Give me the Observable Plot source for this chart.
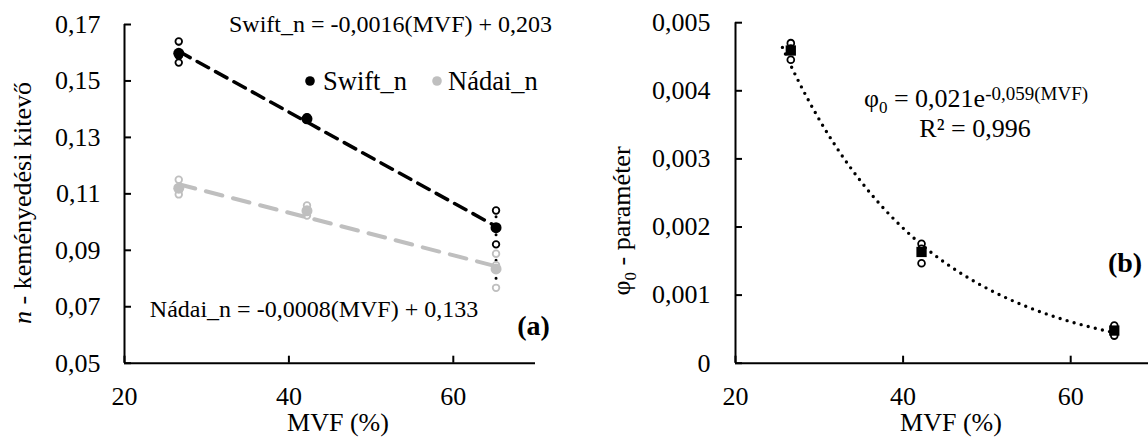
<!DOCTYPE html>
<html>
<head>
<meta charset="utf-8">
<script src="https://cdn.jsdelivr.net/npm/d3@7"></script>
<script src="https://cdn.jsdelivr.net/npm/@observablehq/plot@0.6"></script>
<style>
  html, body { margin: 0; padding: 0; background: #fff; }
  #fig { position: relative; width: 1148px; height: 438px; overflow: hidden; background: #fff; }
  #fig svg { position: absolute; top: 0; font-family: "Liberation Serif", "Times New Roman", serif; }
  #fig svg text { font-family: "Liberation Serif", "Times New Roman", serif; }
</style>
</head>
<body>
<div id="fig"></div>
<script>
// Martensite volume fraction of the three steel grades (%)
const mvf = [26.6, 42.2, 65.2];

// Strain-hardening exponent n, three specimens per grade
const swiftN = [[0.1640, 0.1589, 0.1565], [0.1372, 0.1364, 0.1362], [0.1041, 0.0978, 0.0921]];
const nadaiN = [[0.1150, 0.1112, 0.1098], [0.1059, 0.1038, 0.1023], [0.0888, 0.0847, 0.0767]];

// Swift pre-strain parameter phi0, three specimens per grade
const phi0 = [[0.00470, 0.00462, 0.004455], [0.001753, 0.00168, 0.001468], [0.000553, 0.00048, 0.000405]];

// Exponential trend of phi0 and the MVF span it is drawn over
const phiFit = { a: 0.021, b: -0.059, r2: 0.996 };
const phiFitRange = [25.6, 65.2];

const seriesNames = ["Swift_n", "Nádai_n"];
const seriesColors = ["#000000", "#bfbfbf"];

const ticksX = [20, 40, 60];
const ticksN = [0.05, 0.07, 0.09, 0.11, 0.13, 0.15, 0.17];
const ticksPhi = [0, 0.001, 0.002, 0.003, 0.004, 0.005];

const comma = (v, d) => v.toFixed(d).replace(".", ",");
const font = "Liberation Serif";

const toRows = (vals) => vals.flatMap((reps, i) => reps.map((v) => ({ mvf: mvf[i], value: v })));
const toStats = (vals) => vals.map((reps, i) => ({
  mvf: mvf[i], mean: d3.mean(reps), lo: d3.min(reps), hi: d3.max(reps)
}));

// ordinary least squares, same fit as Plot.linearRegressionY
function fitLine(rows) {
  const mx = d3.mean(rows, (d) => d.mvf), my = d3.mean(rows, (d) => d.value);
  const sxy = d3.sum(rows, (d) => (d.mvf - mx) * (d.value - my));
  const sxx = d3.sum(rows, (d) => (d.mvf - mx) ** 2);
  const slope = sxy / sxx;
  return { slope, intercept: my - slope * mx };
}

// free-standing SVG text with mixed styles (italic, sub/superscripts)
function textMark({ x, y, anchor = "start", size = 26, weight = "normal", rotate = 0, parts }) {
  return () => {
    const t = d3.create("svg:text")
      .attr("transform", `translate(${x},${y})` + (rotate ? ` rotate(${rotate})` : ""))
      .attr("text-anchor", anchor)
      .attr("font-family", font)
      .attr("font-size", size)
      .attr("font-weight", weight)
      .attr("fill", "black");
    let shift = 0;
    for (const p of parts) {
      const s = t.append("tspan").text(p.text);
      if (p.size) s.attr("font-size", p.size);
      if (p.italic) s.attr("font-style", "italic");
      const target = p.shift || 0;
      if (target !== shift) { s.attr("dy", target - shift); shift = target; }
    }
    return t.node();
  };
}

function swatch({ x, y, r, fill }) {
  return () => d3.create("svg:circle").attr("cx", x).attr("cy", y).attr("r", r).attr("fill", fill).node();
}

const baseStyle = { fontFamily: font, fontSize: "26px", color: "black", background: "transparent", overflow: "visible" };
const axisText = { fontFamily: font, fontSize: 26, fontVariant: "normal" };

// ---------- (a) strain-hardening exponent ----------
const swiftRows = toRows(swiftN), nadaiRows = toRows(nadaiN);
const swiftStats = toStats(swiftN), nadaiStats = toStats(nadaiN);
const swiftFit = fitLine(swiftRows), nadaiFit = fitLine(nadaiRows);
const eqText = (name, f) => `${name} = ${comma(f.slope, 4)}(MVF) + ${comma(f.intercept, 3)}`;

const left = Plot.plot({
  width: 575, height: 438,
  marginLeft: 124, marginRight: 40, marginTop: 24, marginBottom: 75.3,
  style: baseStyle,
  x: { domain: [20, 70] },
  y: { domain: [0.05, 0.17] },
  marks: [
    Plot.axisY(ticksN, { ...axisText, tickSize: -7, tickPadding: 31, tickFormat: (v) => comma(v, 2), strokeWidth: 2, label: null }),
    Plot.axisX(ticksX, { ...axisText, tickSize: -7, tickPadding: 30, strokeWidth: 2, label: null }),
    Plot.ruleX([20], { strokeWidth: 2 }),
    Plot.ruleY([0.05], { strokeWidth: 2 }),
    Plot.ruleX([...swiftStats, ...nadaiStats], {
      x: "mvf", y1: "lo", y2: "hi", stroke: "black", strokeWidth: 3, strokeDasharray: "0,9", strokeLinecap: "round"
    }),
    Plot.dot(swiftRows, { x: "mvf", y: "value", r: 3.3, stroke: seriesColors[0], fill: "white", strokeWidth: 1.8 }),
    Plot.dot(nadaiRows, { x: "mvf", y: "value", r: 3.3, stroke: seriesColors[1], fill: "white", strokeWidth: 1.8 }),
    Plot.dot(swiftStats, { x: "mvf", y: "mean", r: 5.5, fill: seriesColors[0] }),
    Plot.dot(nadaiStats, { x: "mvf", y: "mean", r: 5.5, fill: seriesColors[1] }),
    Plot.linearRegressionY(swiftRows, { x: "mvf", y: "value", ci: 0, stroke: seriesColors[0], strokeWidth: 3.5, strokeDasharray: "13,8" }),
    Plot.linearRegressionY(nadaiRows, { x: "mvf", y: "value", ci: 0, stroke: seriesColors[1], strokeWidth: 4, strokeDasharray: "17,11" }),
    textMark({ x: 390.5, y: 32, anchor: "middle", size: 24, parts: [{ text: eqText(seriesNames[0], swiftFit) }] }),
    textMark({ x: 314, y: 317, anchor: "middle", size: 24, parts: [{ text: eqText(seriesNames[1], nadaiFit) }] }),
    swatch({ x: 310, y: 81, r: 4.8, fill: seriesColors[0] }),
    textMark({ x: 323, y: 90, size: 26.5, parts: [{ text: seriesNames[0] }] }),
    swatch({ x: 437, y: 81, r: 4.8, fill: seriesColors[1] }),
    textMark({ x: 448, y: 90, size: 26.5, parts: [{ text: seriesNames[1] }] }),
    textMark({ x: 533.5, y: 335, anchor: "middle", size: 28, weight: "bold", parts: [{ text: "(a)" }] }),
    textMark({ x: 31, y: 203, anchor: "middle", rotate: -90, parts: [{ text: "n", italic: true }, { text: " - keményedési kitevő" }] }),
    textMark({ x: 338, y: 431, anchor: "middle", parts: [{ text: "MVF (%)" }] })
  ]
});

// ---------- (b) Swift pre-strain parameter ----------
const phiRows = toRows(phi0), phiStats = toStats(phi0);
const phiCurve = d3.range(201).map((k) => {
  const x = phiFitRange[0] + (phiFitRange[1] - phiFitRange[0]) * k / 200;
  return { mvf: x, value: phiFit.a * Math.exp(phiFit.b * x) };
});

const right = Plot.plot({
  width: 579, height: 438,
  marginLeft: 160, marginRight: 0, marginTop: 22.2, marginBottom: 75.3,
  style: baseStyle,
  x: { domain: [20, 70] },
  y: { domain: [0, 0.005] },
  marks: [
    Plot.axisY(ticksPhi, { ...axisText, tickSize: -7, tickPadding: 32, tickFormat: (v) => (v === 0 ? "0" : comma(v, 3)), strokeWidth: 2, label: null }),
    Plot.axisX(ticksX, { ...axisText, tickSize: -7, tickPadding: 30, strokeWidth: 2, label: null }),
    Plot.ruleX([20], { strokeWidth: 2 }),
    Plot.ruleY([0], { strokeWidth: 2 }),
    Plot.line(phiCurve, { x: "mvf", y: "value", stroke: "black", strokeWidth: 3.4, strokeDasharray: "0,7.3", strokeLinecap: "round" }),
    Plot.dot(phiRows, { x: "mvf", y: "value", r: 3.4, stroke: "black", fill: "white", strokeWidth: 1.8 }),
    Plot.dot(phiStats, { x: "mvf", y: "mean", r: 5.8, symbol: "square", fill: "black" }),
    textMark({
      x: 401, y: 106.7, anchor: "middle", size: 26, parts: [
        { text: "φ" },
        { text: "0", size: 17, shift: 6 },
        { text: ` = ${comma(phiFit.a, 3)}e` },
        { text: `${comma(phiFit.b, 3)}(MVF)`, size: 19, shift: -7 }
      ]
    }),
    textMark({ x: 400, y: 136.7, anchor: "middle", size: 26, parts: [{ text: `R² = ${comma(phiFit.r2, 3)}` }] }),
    textMark({ x: 550, y: 272, anchor: "middle", size: 28, weight: "bold", parts: [{ text: "(b)" }] }),
    textMark({ x: 55, y: 221, anchor: "middle", rotate: -90, parts: [{ text: "φ" }, { text: "0", size: 17, shift: 6 }, { text: " - paraméter" }] }),
    textMark({ x: 376, y: 431, anchor: "middle", parts: [{ text: "MVF (%)" }] })
  ]
});

left.style.left = "0px";
right.style.left = "575px";
document.getElementById("fig").append(left, right);
</script>
</body>
</html>
